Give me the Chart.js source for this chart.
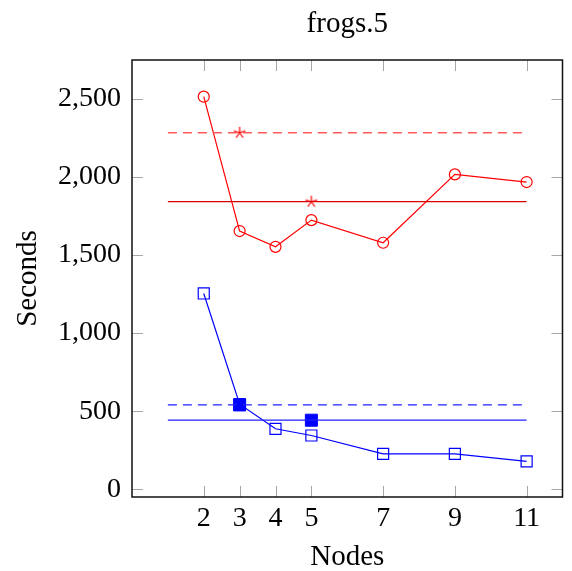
<!DOCTYPE html>
<html>
<head>
<meta charset="utf-8">
<script src="https://cdn.jsdelivr.net/npm/chart.js@4/dist/chart.umd.min.js"></script>
<style>
  html, body { margin: 0; padding: 0; background: #fff; }
</style>
</head>
<body>
<canvas id="frogsChart" width="572" height="571"></canvas>
<script>
// values
const nodes = [2, 3, 4, 5, 7, 9, 11];
const redTimes = [2515, 1654, 1553, 1724, 1579, 2017, 1968];
const blueTimes = [1254, 545, 387, 344, 226, 226, 178];

// horizontal reference levels, drawn from node 1 to node 11
const spanNodes = [1, 11];
const redDashedLevel = 2284;
const redSolidLevel = 1842;
const blueDashedLevel = 540;
const blueSolidLevel = 442;

// single marks
const starNodes = [3, 5];
const starTimes = [2284, 1842];
const filledNodes = [3, 5];
const filledTimes = [540, 442];

const xTicks = [2, 3, 4, 5, 7, 9, 11];
const yTicks = [0, 500, 1000, 1500, 2000, 2500];

const serif = "'Liberation Serif', 'Times New Roman', serif";

function pts(xs, ys) {
  return xs.map((x, i) => ({ x: x, y: ys[i] }));
}
function level(v) {
  return spanNodes.map((x) => ({ x: x, y: v }));
}

// five-armed asterisk like the pgfplots "star" mark
function makeStar(color, r) {
  const c = document.createElement("canvas");
  const s = Math.ceil(r * 2 + 4);
  c.width = s;
  c.height = s;
  const g = c.getContext("2d");
  g.strokeStyle = color;
  g.lineWidth = 1.2;
  g.beginPath();
  for (let k = 0; k < 5; k++) {
    const ang = -Math.PI / 2 + (k * 2 * Math.PI) / 5;
    g.moveTo(s / 2, s / 2);
    g.lineTo(s / 2 + r * Math.cos(ang), s / 2 + r * Math.sin(ang));
  }
  g.stroke();
  return c;
}

// frame plus inward tick marks on all four sides
const frameTicks = {
  id: "frameTicks",
  beforeDatasetsDraw(chart) {
    const { ctx, chartArea: a, scales } = chart;
    const len = 11;
    ctx.save();
    ctx.strokeStyle = "#a8a8a8";
    ctx.lineWidth = 1;
    ctx.beginPath();
    xTicks.forEach((v) => {
      const px = Math.round(scales.x.getPixelForValue(v)) + 0.5;
      ctx.moveTo(px, a.bottom);
      ctx.lineTo(px, a.bottom - len);
      ctx.moveTo(px, a.top);
      ctx.lineTo(px, a.top + len);
    });
    yTicks.forEach((v) => {
      const py = Math.round(scales.y.getPixelForValue(v)) + 0.5;
      ctx.moveTo(a.left, py);
      ctx.lineTo(a.left + len, py);
      ctx.moveTo(a.right, py);
      ctx.lineTo(a.right - len, py);
    });
    ctx.stroke();
    ctx.restore();
  },
  afterDatasetsDraw(chart) {
    const { ctx, chartArea: a } = chart;
    ctx.save();
    ctx.strokeStyle = "#111";
    ctx.lineWidth = 1.5;
    ctx.strokeRect(a.left, a.top, a.right - a.left, a.bottom - a.top);
    ctx.restore();
  },
};

const ctx = document.getElementById("frogsChart").getContext("2d");
new Chart(ctx, {
  type: "line",
  data: {
    datasets: [
      {
        data: level(redDashedLevel),
        borderColor: "#ff5a5a",
        borderWidth: 1.3,
        borderDash: [9, 6],
        pointRadius: 0,
      },
      {
        data: level(redSolidLevel),
        borderColor: "#d80000",
        borderWidth: 1.2,
        pointRadius: 0,
      },
      {
        data: level(blueDashedLevel),
        borderColor: "#2020ff",
        borderWidth: 1.2,
        borderDash: [9, 6],
        pointRadius: 0,
      },
      {
        data: level(blueSolidLevel),
        borderColor: "#2020ff",
        borderWidth: 1.2,
        pointRadius: 0,
      },
      {
        data: pts(nodes, redTimes),
        borderColor: "#ff0000",
        borderWidth: 1.2,
        pointStyle: "circle",
        pointRadius: 5.5,
        pointBorderWidth: 1.2,
        pointBackgroundColor: "rgba(255,255,255,0)",
      },
      {
        data: pts(nodes, blueTimes),
        borderColor: "#0000ff",
        borderWidth: 1.2,
        pointStyle: "rect",
        pointRadius: 7.8,
        pointBorderWidth: 1.2,
        pointBackgroundColor: "rgba(255,255,255,0)",
      },
      {
        data: pts(starNodes, starTimes),
        showLine: false,
        borderColor: "#ff0000",
        pointStyle: makeStar("#ff0000", 6),
        pointRadius: 6,
      },
      {
        data: pts(filledNodes, filledTimes),
        showLine: false,
        borderColor: "#0000ff",
        pointStyle: "rect",
        pointRadius: 8.5,
        pointBorderWidth: 1,
        pointBackgroundColor: "#0000ff",
      },
    ],
  },
  options: {
    responsive: false,
    animation: false,
    events: [],
    layout: { padding: { top: 0, right: 3, bottom: 0, left: 0 } },
    elements: { line: { tension: 0, fill: false } },
    plugins: {
      legend: { display: false },
      tooltip: { enabled: false },
      title: {
        display: true,
        fullSize: false,
        text: "frogs.5",
        color: "#000",
        font: { family: serif, size: 29, weight: "normal" },
        padding: { top: 7, bottom: 18.2 },
      },
    },
    scales: {
      x: {
        type: "linear",
        min: 0,
        max: 12,
        afterBuildTicks: (scale) => {
          scale.ticks = xTicks.map((v) => ({ value: v }));
        },
        afterFit: (scale) => {
          scale.height = 74;
        },
        grid: { display: false, drawTicks: false },
        border: { display: false },
        ticks: {
          color: "#000",
          font: { family: serif, size: 28 },
          padding: 5,
          autoSkip: false,
          maxRotation: 0,
        },
        title: {
          display: true,
          text: "Nodes",
          color: "#000",
          font: { family: serif, size: 29 },
          padding: { top: 0, bottom: -4 },
        },
      },
      y: {
        type: "linear",
        min: -50,
        max: 2750,
        afterBuildTicks: (scale) => {
          scale.ticks = yTicks.map((v) => ({ value: v }));
        },
        afterFit: (scale) => {
          scale.width = 132;
        },
        grid: { display: false, drawTicks: false },
        border: { display: false },
        ticks: {
          color: "#000",
          font: { family: serif, size: 28 },
          padding: 11,
          callback: (v) => v.toLocaleString("en-US"),
        },
        title: {
          display: true,
          text: "Seconds",
          color: "#000",
          font: { family: serif, size: 29 },
          padding: { top: 11, bottom: 0 },
        },
      },
    },
  },
  plugins: [frameTicks],
});
</script>
</body>
</html>
